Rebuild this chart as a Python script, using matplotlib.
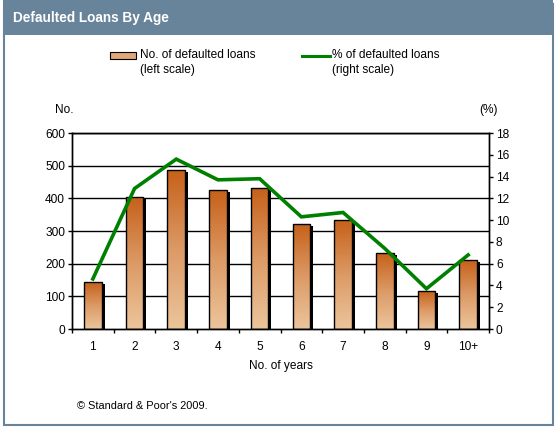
import matplotlib
matplotlib.use("Agg")
import matplotlib.pyplot as plt
import numpy as np
from matplotlib.patches import Rectangle
from matplotlib.lines import Line2D
from matplotlib.transforms import ScaledTranslation
from matplotlib.colors import LinearSegmentedColormap

# ---- data ----
categories = ["1", "2", "3", "4", "5", "6", "7", "8", "9", "10+"]
defaulted_loans = [143, 403, 486, 425, 431, 320, 333, 232, 115, 210]
defaulted_pct = [4.6, 12.9, 15.6, 13.7, 13.8, 10.3, 10.7, 7.4, 3.7, 6.8]
left_ticks = [0, 100, 200, 300, 400, 500, 600]
right_ticks = [0, 2, 4, 6, 8, 10, 12, 14, 16, 18]

W, H = 555, 430
DPI = 100
FS = 8.6
plt.rcParams['font.family'] = ['Liberation Sans', 'DejaVu Sans']
fig = plt.figure(figsize=(W / DPI, H / DPI), dpi=DPI)
fig.patch.set_facecolor("white")

FRAME = "#68849a"

def fx(px):
    return px / W

def fy(py):
    return 1 - py / H

# frame + header
fig.add_artist(Rectangle((fx(3.5), fy(424.5)), fx(549), (421) / H, transform=fig.transFigure,
                         facecolor="none", edgecolor=FRAME, linewidth=1.5))
fig.add_artist(Rectangle((fx(3), fy(35)), fx(550), 35 / H, transform=fig.transFigure,
                         facecolor=FRAME, edgecolor="none"))
fig.text(fx(13), fy(18), "Defaulted Loans By Age", color="white", fontsize=9.8,
         fontweight="bold", va="center", ha="left")

# axes
ax = fig.add_axes([fx(72), fy(329), fx(489 - 72), (329 - 133) / H])
ax2 = ax.twinx()
ax.set_zorder(1)
ax2.set_zorder(2)
ax.patch.set_visible(False)

x = np.arange(len(categories))
bw = 0.42
ax.set_xlim(-0.5, len(categories) - 0.5)
ax.set_ylim(0, 600)
ax2.set_ylim(0, 18)

for v in left_ticks[1:]:
    ax.axhline(v, color="black", linewidth=1, zorder=0.5)

# shadows
shadow_tr = ax.transData + ScaledTranslation(3 / DPI, -2 / DPI, fig.dpi_scale_trans)
ax.bar(x, defaulted_loans, width=bw, color="black", transform=shadow_tr, zorder=1, clip_on=True)

# gradient bars
cmap = LinearSegmentedColormap.from_list("g", ["#ecc59b", "#dc9a66", "#c6611a"])
bars = ax.bar(x, defaulted_loans, width=bw, facecolor="none", edgecolor="black", linewidth=1, zorder=3)
grad = np.linspace(0, 1, 256).reshape(-1, 1)
for b in bars:
    x0, y0 = b.get_x(), b.get_y()
    im = ax.imshow(grad, cmap=cmap, origin="lower", aspect="auto",
                   extent=[x0, x0 + b.get_width(), y0, y0 + b.get_height()], zorder=2)
    im.set_clip_path(b)
ax.set_xlim(-0.5, len(categories) - 0.5)
ax.set_ylim(0, 600)

# line
ax2.plot(x, defaulted_pct, color="#008000", linewidth=2.6, zorder=5, solid_joinstyle="miter")

# ticks
ax.set_yticks(left_ticks)
ax2.set_yticks(right_ticks)
ax.set_xticks(np.arange(-0.5, len(categories), 1.0))
ax.set_xticklabels([])
ax.set_xticks(x, minor=True)
ax.set_xticklabels(categories, minor=True)
ax.tick_params(axis="x", which="major", direction="out", length=3, width=1, color="black")
ax.tick_params(axis="x", which="minor", length=0, pad=9, labelsize=FS)
ax.tick_params(axis="y", direction="out", length=3, width=1, pad=2, labelsize=FS)
ax2.tick_params(axis="y", direction="out", length=3, width=1, pad=2, labelsize=FS)
for a in (ax, ax2):
    for s in ("left", "right", "bottom", "top"):
        a.spines[s].set_color("black")
        a.spines[s].set_linewidth(1)

# axis labels
fig.text(fx(64), fy(110), "No.", fontsize=FS, ha="center", va="center")
fig.text(fx(488), fy(110), "(%)", fontsize=FS, ha="center", va="center")
fig.text(fx(280.5), fy(366), "No. of years", fontsize=FS, ha="center", va="center")
fig.text(fx(77), fy(406), "© Standard & Poor's 2009.", fontsize=7.9, ha="left", va="center")

# legend
fig.add_artist(Rectangle((fx(110), fy(59)), fx(26), 7 / H, transform=fig.transFigure,
                         facecolor="#e0a77a", edgecolor="black", linewidth=0.8))
fig.text(fx(140), fy(55), "No. of defaulted loans", fontsize=FS, ha="left", va="center")
fig.text(fx(140), fy(70), "(left scale)", fontsize=FS, ha="left", va="center")
fig.add_artist(Line2D([fx(302), fx(330)], [fy(55.5), fy(55.5)], transform=fig.transFigure,
                      color="#008000", linewidth=2.2))
fig.text(fx(332), fy(55), "% of defaulted loans", fontsize=FS, ha="left", va="center")
fig.text(fx(332), fy(70), "(right scale)", fontsize=FS, ha="left", va="center")

fig.savefig("out.png", dpi=DPI, facecolor="white")
